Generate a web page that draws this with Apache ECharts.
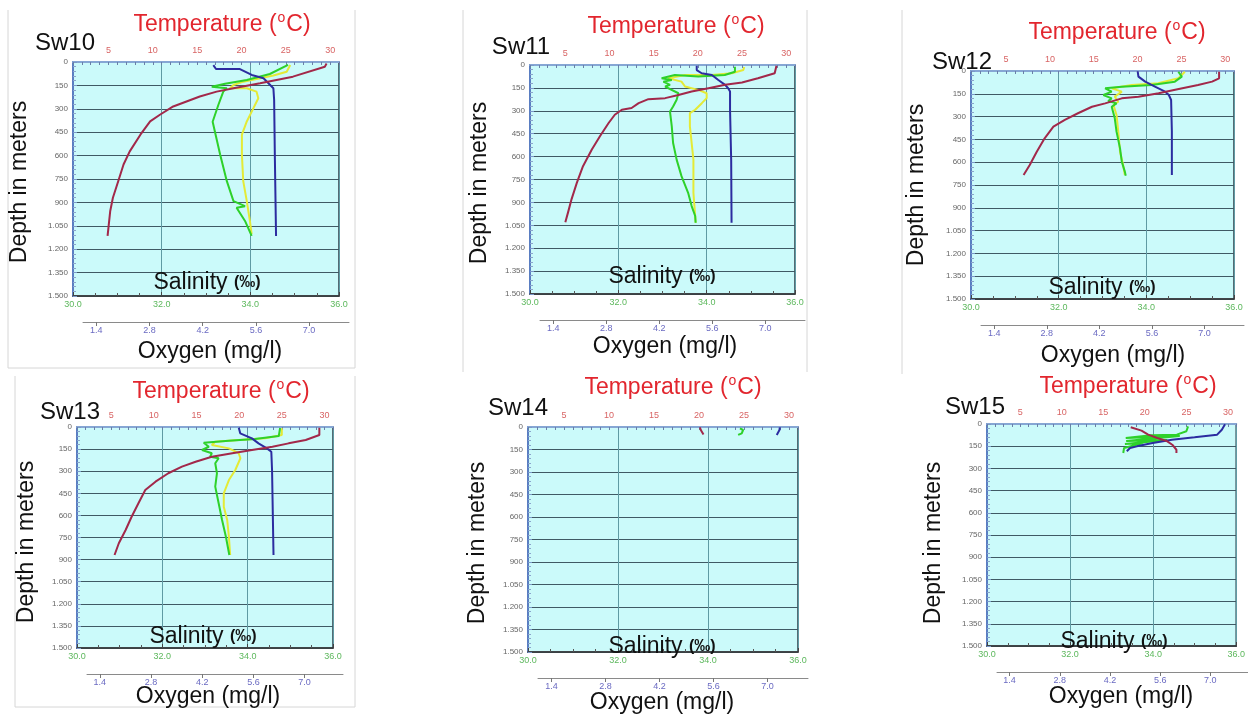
<!DOCTYPE html>
<html>
<head>
<meta charset="utf-8">
<script src="https://cdn.jsdelivr.net/npm/echarts@6/dist/echarts.min.js"></script>
<style>
  html, body { margin: 0; background: #fff; }
  #main { width: 1248px; height: 717px; }
</style>
</head>
<body>
<div id="main"></div>
<script>
// station names
const stations = ['Sw10', 'Sw11', 'Sw12', 'Sw13', 'Sw14', 'Sw15'];

// tick labels
const depthTicks = [0, 150, 300, 450, 600, 750, 900, 1050, 1200, 1350, 1500];
const tempTicks = [5, 10, 15, 20, 25, 30];
const salTicks = [30, 32, 34, 36];
const oxyTicks = [1.4, 2.8, 4.2, 5.6, 7.0];

// Sw10 profiles (depth m / value)
const sw10TempZ = [10, 30, 94, 136, 168, 190, 221, 253, 285, 338, 381, 466, 573, 657, 764, 870, 955, 1115];
const sw10Temp = [29.6, 29.4, 25.8, 22.1, 19.1, 17.2, 15.3, 13.8, 12.3, 10.8, 9.7, 8.6, 7.4, 6.7, 6.1, 5.5, 5.2, 4.9];
const sw10OxyZ = [20, 45, 45, 83, 104, 136, 168, 243, 626, 1115];
const sw10Oxy = [4.48, 4.55, 5.18, 5.49, 5.80, 5.93, 6.06, 6.08, 6.10, 6.13];
const sw10SalZ = [19, 77, 115, 140, 158, 168, 190, 274, 383, 594, 764, 892, 924, 934, 1019, 1115];
const sw10Sal = [34.85, 34.44, 33.92, 33.43, 33.13, 33.47, 33.39, 33.28, 33.15, 33.32, 33.47, 33.62, 33.88, 33.69, 33.88, 34.03];
const sw10YelZ = [19, 62, 87, 104, 126, 147, 168, 168, 190, 232, 296, 381, 466, 594, 764, 892, 1019, 1104];
const sw10Yel = [34.90, 34.82, 34.52, 34.22, 33.84, 33.62, 33.54, 33.92, 34.14, 34.18, 34.07, 33.92, 33.81, 33.81, 33.84, 33.92, 33.99, 34.03];

// Sw11
const sw11TempZ = [5, 54, 87, 115, 130, 152, 174, 196, 217, 224, 250, 282, 293, 326, 380, 468, 554, 663, 772, 880, 967, 1030];
const sw11Temp = [28.9, 28.7, 26.8, 25.0, 23.1, 21.2, 19.3, 17.8, 16.3, 14.4, 13.3, 12.5, 11.4, 10.6, 9.9, 8.9, 8.0, 7.0, 6.3, 5.7, 5.3, 5.0];
const sw11OxyZ = [5, 33, 54, 65, 98, 130, 152, 174, 293, 620, 1033];
const sw11Oxy = [5.19, 5.19, 5.32, 5.59, 5.76, 5.94, 6.02, 6.07, 6.07, 6.10, 6.11];
const sw11SalZ = [11, 44, 65, 76, 65, 87, 98, 109, 130, 141, 185, 228, 272, 305, 402, 511, 620, 728, 837, 924, 989, 1033];
const sw11Sal = [34.64, 34.64, 34.41, 33.81, 33.28, 32.98, 33.21, 33.02, 33.17, 33.06, 33.36, 33.32, 33.24, 33.17, 33.21, 33.24, 33.32, 33.43, 33.58, 33.66, 33.74, 33.75];
const sw11YelZ = [13, 33, 54, 65, 65, 87, 109, 141, 163, 185, 217, 250, 293, 315, 402, 620, 837, 989, 1033];
const sw11Yel = [34.85, 34.83, 34.57, 34.11, 33.51, 33.13, 33.43, 33.51, 33.81, 34.00, 34.00, 33.89, 33.74, 33.62, 33.62, 33.70, 33.70, 33.74, 33.75];

// Sw12
const sw12TempZ = [5, 48, 70, 92, 118, 147, 169, 180, 213, 235, 278, 322, 366, 443, 531, 618, 684];
const sw12Temp = [29.3, 29.3, 28.5, 26.9, 24.7, 22.4, 20.1, 18.2, 16.3, 14.8, 13.2, 11.7, 10.4, 9.4, 8.5, 7.7, 7.0];
const sw12OxyZ = [3, 37, 70, 103, 136, 158, 191, 399, 684];
const sw12Oxy = [5.22, 5.24, 5.42, 5.68, 5.95, 6.05, 6.11, 6.13, 6.13];
const sw12SalZ = [5, 37, 70, 92, 103, 114, 136, 158, 180, 197, 213, 235, 311, 399, 509, 597, 662, 689];
const sw12Sal = [34.73, 34.81, 34.65, 34.12, 33.44, 33.06, 33.21, 33.02, 33.21, 33.13, 33.32, 33.21, 33.28, 33.32, 33.40, 33.44, 33.51, 33.53];
const sw12YelZ = [5, 48, 81, 92, 114, 136, 169, 202, 224, 289, 399, 531, 618, 684];
const sw12Yel = [34.88, 34.73, 34.27, 33.67, 33.21, 33.44, 33.28, 33.36, 33.25, 33.32, 33.36, 33.40, 33.47, 33.51];

// Sw13
const sw13TempZ = [5, 54, 88, 111, 134, 156, 178, 202, 236, 269, 314, 371, 428, 518, 609, 699, 789, 869];
const sw13Temp = [29.4, 29.4, 27.8, 25.8, 23.9, 21.5, 19.2, 16.8, 14.9, 13.3, 11.7, 10.2, 9.0, 8.2, 7.4, 6.7, 5.9, 5.4];
const sw13OxyZ = [5, 43, 77, 111, 145, 168, 292, 869];
const sw13Oxy = [5.20, 5.24, 5.56, 5.74, 5.97, 6.09, 6.11, 6.15];
const sw13SalZ = [7, 61, 81, 93, 107, 134, 156, 178, 202, 212, 246, 314, 405, 518, 631, 745, 869];
const sw13Sal = [34.76, 34.73, 34.17, 33.56, 32.97, 33.09, 32.93, 33.16, 33.12, 33.32, 33.24, 33.28, 33.24, 33.32, 33.40, 33.49, 33.57];
const sw13YelZ = [9, 54, 77, 88, 100, 122, 145, 178, 212, 292, 360, 450, 541, 631, 745, 869];
const sw13Yel = [34.80, 34.80, 34.41, 33.79, 33.24, 33.16, 33.56, 33.79, 33.83, 33.71, 33.56, 33.44, 33.44, 33.52, 33.56, 33.59];

// Sw14 (surface only)
const sw14TempZ = [3, 20, 50];
const sw14Temp = [20.1, 20.2, 20.5];
const sw14OxyZ = [3, 20, 53];
const sw14Oxy = [7.32, 7.31, 7.24];
const sw14SalZ = [9, 20, 42, 53];
const sw14Sal = [34.71, 34.78, 34.75, 34.67];

// Sw15
const sw15TempZ = [22, 45, 72, 95, 117, 140, 174, 196];
const sw15Temp = [18.3, 19.6, 20.4, 21.5, 22.7, 23.3, 23.8, 23.8];
const sw15OxyZ = [2, 39, 72, 90, 106, 128, 151, 162, 184];
const sw15Oxy = [7.41, 7.32, 7.19, 6.56, 5.93, 5.39, 4.95, 4.76, 4.67];
const sw15SalZ = [16, 49, 72, 76, 95, 81, 115, 108, 135, 128, 162, 196];
const sw15Sal = [34.84, 34.80, 34.57, 33.95, 33.34, 34.64, 33.35, 34.34, 33.32, 33.76, 33.30, 33.28];

const profiles = [
  { temp: [sw10Temp, sw10TempZ], oxy: [sw10Oxy, sw10OxyZ], sal: [sw10Sal, sw10SalZ], yel: [sw10Yel, sw10YelZ] },
  { temp: [sw11Temp, sw11TempZ], oxy: [sw11Oxy, sw11OxyZ], sal: [sw11Sal, sw11SalZ], yel: [sw11Yel, sw11YelZ] },
  { temp: [sw12Temp, sw12TempZ], oxy: [sw12Oxy, sw12OxyZ], sal: [sw12Sal, sw12SalZ], yel: [sw12Yel, sw12YelZ] },
  { temp: [sw13Temp, sw13TempZ], oxy: [sw13Oxy, sw13OxyZ], sal: [sw13Sal, sw13SalZ], yel: [sw13Yel, sw13YelZ] },
  { temp: [sw14Temp, sw14TempZ], oxy: [sw14Oxy, sw14OxyZ], sal: [sw14Sal, sw14SalZ] },
  { temp: [sw15Temp, sw15TempZ], oxy: [sw15Oxy, sw15OxyZ], sal: [sw15Sal, sw15SalZ] }
];

// layout of each panel: plot box and title positions
const boxes = [
  { x: 73, y: 62, w: 266, h: 234 },
  { x: 530, y: 65, w: 265, h: 229 },
  { x: 971, y: 71, w: 263, h: 228 },
  { x: 77, y: 427, w: 256, h: 221 },
  { x: 528, y: 427, w: 270, h: 225 },
  { x: 987, y: 424, w: 260, h: 222 }
];
const textPos = [
  { temp: [222, 25], name: [65, 43], depth: [20, 182], sal: [207, 283], oxy: [210, 352] },
  { temp: [676, 27], name: [521, 47], depth: [480, 183], sal: [662, 277], oxy: [665, 347] },
  { temp: [1117, 33], name: [962, 62], depth: [917, 185], sal: [1102, 288], oxy: [1113, 356] },
  { temp: [221, 392], name: [70, 412], depth: [27, 542], sal: [203, 637], oxy: [208, 697] },
  { temp: [673, 388], name: [518, 408], depth: [478, 543], sal: [662, 647], oxy: [662, 703] },
  { temp: [1128, 387], name: [975, 407], depth: [934, 543], sal: [1114, 642], oxy: [1121, 697] }
];

const FONT = 'Liberation Sans, Arial, sans-serif';
const colTemp = '#a2284a', colOxy = '#2c2ca0', colSal = '#2ed12a', colYel = '#e4ea36';

function pairs(arr) {
  return arr[0].map((v, k) => [v, arr[1][k]]);
}
function depthFmt(v) {
  if (v >= 1000) return Math.floor(v / 1000) + '.' + String(v % 1000).padStart(3, '0');
  return String(v);
}

let grids = [], xAxes = [], yAxes = [], series = [], graphics = [];

stations.forEach((st, i) => {
  const b = boxes[i], p = profiles[i], t = textPos[i];
  const g = grids.length;
  grids.push({ left: b.x, top: b.y, width: b.w, height: b.h, show: true,
    backgroundColor: '#cbfafa', borderColor: '#2e3c48', borderWidth: 1.5 });
  grids.push({ left: b.x + 10, top: b.y, width: b.w, height: b.h, show: false });

  const xi = xAxes.length, yi = yAxes.length;
  // salinity (bottom)
  xAxes.push({ type: 'value', gridIndex: g, position: 'bottom', min: salTicks[0], max: salTicks[salTicks.length - 1], interval: 2,
    axisLine: { onZero: false, lineStyle: { color: '#3a3a3a', width: 1.5 } },
    axisTick: { inside: true, length: 4, lineStyle: { color: '#444' } },
    minorTick: { show: true, splitNumber: 4, length: 3, lineStyle: { color: '#555' } },
    splitLine: { show: true, lineStyle: { color: '#5f9aa3', width: 1 } },
    axisLabel: { color: '#5db85d', fontSize: 9, fontFamily: FONT, margin: 4, showMinLabel: true, showMaxLabel: true,
      formatter: v => v.toFixed(1) } });
  // temperature (top)
  xAxes.push({ type: 'value', gridIndex: g, position: 'top', min: 1, max: 31, interval: 1,
    axisLine: { onZero: false, lineStyle: { color: '#86a6d4', width: 2 } },
    axisTick: { inside: true, length: 3, lineStyle: { color: '#6a7fa8' } },
    splitLine: { show: false },
    axisLabel: { color: '#d86464', fontSize: 9, fontFamily: FONT, margin: 7,
      formatter: v => (tempTicks.indexOf(v) >= 0 ? String(v) : '') } });
  // oxygen (second bottom axis)
  xAxes.push({ type: 'value', gridIndex: g + 1, position: 'bottom', offset: 26, min: 1.05, max: 8.05,
    axisLine: { onZero: false, lineStyle: { color: '#8a8a8a', width: 1 } },
    axisTick: { customValues: oxyTicks, length: 4, lineStyle: { color: '#777' } },
    splitLine: { show: false },
    axisLabel: { customValues: oxyTicks, color: '#6a6ac2', fontSize: 9, fontFamily: FONT, margin: 4,
      formatter: v => v.toFixed(1) } });

  yAxes.push({ type: 'value', gridIndex: g, inverse: true, min: 0, max: 1500, interval: 150,
    axisLine: { onZero: false, lineStyle: { color: '#5a7ec2', width: 2 } },
    axisTick: { inside: true, length: 4, lineStyle: { color: '#7b98c8' } },
    minorTick: { show: true, splitNumber: 5, length: 3, lineStyle: { color: '#8aa4cc' } },
    splitLine: { show: true, lineStyle: { color: '#3f5964', width: 1 } },
    axisLabel: { color: '#666', fontSize: 8, fontFamily: FONT, margin: 5, formatter: depthFmt } });
  yAxes.push({ type: 'value', gridIndex: g + 1, inverse: true, min: 0, max: 1500, show: false });

  const line = (name, data, xIdx, yIdx, color) => ({
    name: name, type: 'line', xAxisIndex: xIdx, yAxisIndex: yIdx, data: data,
    symbol: 'none', silent: true, lineStyle: { color: color, width: 2 }
  });
  if (p.yel) series.push(line(st + ' yellow', pairs(p.yel), xi, yi, colYel));
  series.push(line(st + ' salinity', pairs(p.sal), xi, yi, colSal));
  series.push(line(st + ' oxygen', pairs(p.oxy), xi + 2, yi + 1, colOxy));
  series.push(line(st + ' temperature', pairs(p.temp), xi + 1, yi, colTemp));

  // panel texts
  graphics.push({ type: 'text', x: t.temp[0], y: t.temp[1], z: 10,
    style: { text: '{a|Temperature (}{s|o}{a|C)}', align: 'center', verticalAlign: 'middle',
      textAlign: 'center', textVerticalAlign: 'middle',
      rich: { a: { fontSize: 23, fontFamily: FONT, fill: '#e2262e', color: '#e2262e', lineHeight: 28 },
              s: { fontSize: 14, fontFamily: FONT, fill: '#e2262e', color: '#e2262e', verticalAlign: 'top', lineHeight: 28, padding: [0, 1, 10, 1] } } } });
  graphics.push({ type: 'text', x: t.name[0], y: t.name[1], z: 10,
    style: { text: st, font: '24px ' + FONT, fill: '#111', align: 'center', verticalAlign: 'middle',
      textAlign: 'center', textVerticalAlign: 'middle' } });
  graphics.push({ type: 'text', x: t.depth[0], y: t.depth[1], rotation: Math.PI / 2, z: 10,
    style: { text: 'Depth in meters', font: '23px ' + FONT, fill: '#111', align: 'center', verticalAlign: 'middle',
      textAlign: 'center', textVerticalAlign: 'middle' } });
  graphics.push({ type: 'text', x: t.sal[0], y: t.sal[1], z: 10,
    style: { text: '{a|Salinity }{b|(‰)}', align: 'center', verticalAlign: 'middle',
      textAlign: 'center', textVerticalAlign: 'middle',
      rich: { a: { fontSize: 23, fontFamily: FONT, fill: '#111', color: '#111' },
              b: { fontSize: 16, fontWeight: 'bold', fontFamily: FONT, fill: '#111', color: '#111' } } } });
  graphics.push({ type: 'text', x: t.oxy[0], y: t.oxy[1], z: 10,
    style: { text: 'Oxygen (mg/l)', font: '23px ' + FONT, fill: '#111', align: 'center', verticalAlign: 'middle',
      textAlign: 'center', textVerticalAlign: 'middle' } });
});

// faint panel frames
const frames = [
  [[8, 10], [8, 368], [355, 368], [355, 10]],
  [[463, 10], [463, 372]],
  [[807, 10], [807, 372]],
  [[902, 10], [902, 374]],
  [[15, 376], [15, 707], [355, 707], [355, 376]]
];
frames.forEach(pts => graphics.push({ type: 'polyline', z: 1, shape: { points: pts },
  style: { stroke: '#d6d6d6', lineWidth: 1, fill: null } }));

const chart = echarts.init(document.getElementById('main'));
chart.setOption({
  animation: false,
  backgroundColor: '#ffffff',
  grid: grids,
  xAxis: xAxes,
  yAxis: yAxes,
  series: series,
  graphic: graphics
});
</script>
</body>
</html>
